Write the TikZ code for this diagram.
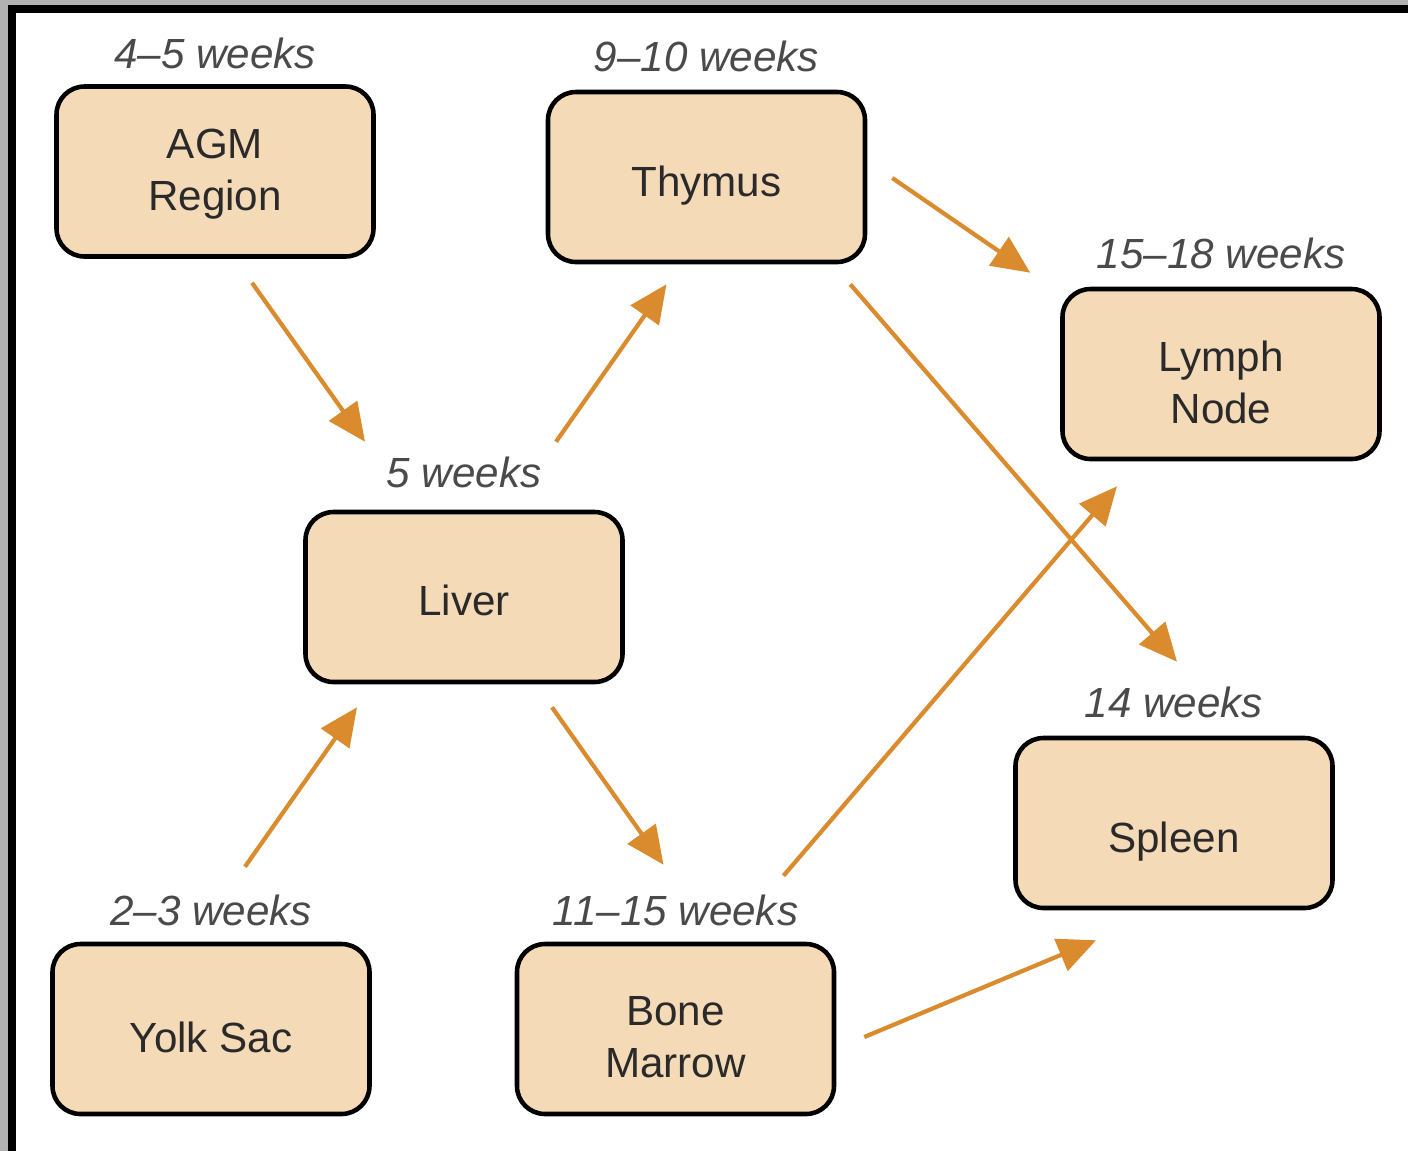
\documentclass[tikz,border=0pt]{standalone}
\usepackage{fontspec}
\setmainfont{Liberation Sans}
\usetikzlibrary{
  arrows.meta,
  positioning,  % Function "of" (e.g. [above=of x])
  calc,
}
\definecolor{peach}{RGB}{245,218,184}
\definecolor{flowc}{RGB}{218,139,45}
\definecolor{ink}{RGB}{42,42,42}
\def\mywdist{0.17cm}
\tikzset{
  my organ/.style={
    draw=black,
    fill=peach,
    text=ink,
    line width=1.3pt,
    rounded corners=2.8mm,
    minimum width=3.17cm,
    minimum height=1.70cm,
    align=center,
    font=\fontsize{12}{14.7}\selectfont,
    rectangle
  },
  % where the text sits in its box
  my drop/.style={
    text height=6mm,
    text depth=#1
  },
  my drop two/.style={
    text height=10mm,
    text depth=#1
  },
  my week/.style={
    inner sep=0mm,
    text=ink!85,
    font=\fontsize{12}{14}\selectfont\itshape
  },
  my flow/.style={
    draw=flowc,
    line width=1.2pt,
    -{Triangle[length=3.8mm,width=3.4mm]}
  }
}

\begin{document}
\begin{tikzpicture}
\useasboundingbox (0,0) rectangle (14.08,-11.51);
\fill[white] (0,0) rectangle (14.08,-11.51);
% frame (left and top only)
\fill[gray!60] (0,0) rectangle (14.08,-0.05);
\fill[gray!60] (0,0) rectangle (0.08,-11.51);
\fill[black] (0.08,-0.05) rectangle (14.08,-0.13);
\fill[black] (0.08,-0.05) rectangle (0.16,-11.51);
% organs
\node[my organ,my drop two=2.3mm] (agm)    at (2.15,-1.715)  {AGM\\Region};
\node[my organ,my drop=2.1mm]     (thymus) at (7.065,-1.77)  {Thymus};
\node[my organ,my drop two=0.2mm] (lymph)  at (12.21,-3.74)  {Lymph\\Node};
\node[my organ,my drop=2.4mm]     (liver)  at (4.64,-5.97)   {Liver};
\node[my organ,my drop=0.1mm]     (spleen) at (11.74,-8.23)  {Spleen};
\node[my organ,my drop=1.4mm]     (yolk)   at (2.11,-10.29)  {Yolk Sac};
\node[my organ,my drop two=0.4mm] (bone)   at (6.755,-10.29) {Bone\\Marrow};
% ages
\node[my week] (agmw)    [above=0.15cm of agm]      {4--5 weeks};
\node[my week] (thymusw) [above=\mywdist of thymus] {9--10 weeks};
\node[my week] (lymphw)  [above=\mywdist of lymph]  {15--18 weeks};
\node[my week] (liverw)  [above=0.21cm of liver]    {5 weeks};
\node[my week] (spleenw) [above=\mywdist of spleen] {14 weeks};
\node[my week] (yolkw)   [above=0.15cm of yolk]     {2--3 weeks};
\node[my week] (bonew)   [above=0.15cm of bone]     {11--15 weeks};
% migration
\draw[my flow] ([shift={(0.37,-0.24)}]agm.south)          -- ([shift={(-0.99,0.68)}]liver.north);
\draw[my flow] ([shift={(0.34,0.75)}]yolk.north)          -- ([shift={(-1.07,-0.23)}]liver.south);
\draw[my flow] ([shift={(0.92,0.68)}]liver.north)         -- ([shift={(-0.40,-0.20)}]thymus.south);
\draw[my flow] ([shift={(0.88,-0.23)}]liver.south)        -- ([shift={(-0.12,0.77)}]bone.north);
\draw[my flow] ([shift={(0.25,-0.01)}]thymus.east)        -- ([shift={(-0.30,0.14)}]lymph.north west);
\draw[my flow] ([shift={(-0.17,-0.20)}]thymus.south east) -- ([shift={(0.03,0.74)}]spleen.north);
\draw[my flow] ([shift={(1.08,0.66)}]bone.north)          -- ([shift={(-1.04,-0.25)}]lymph.south);
\draw[my flow] ([shift={(0.28,-0.08)}]bone.east)          -- ([shift={(-0.78,-0.30)}]spleen.south);
\end{tikzpicture}
\end{document}
